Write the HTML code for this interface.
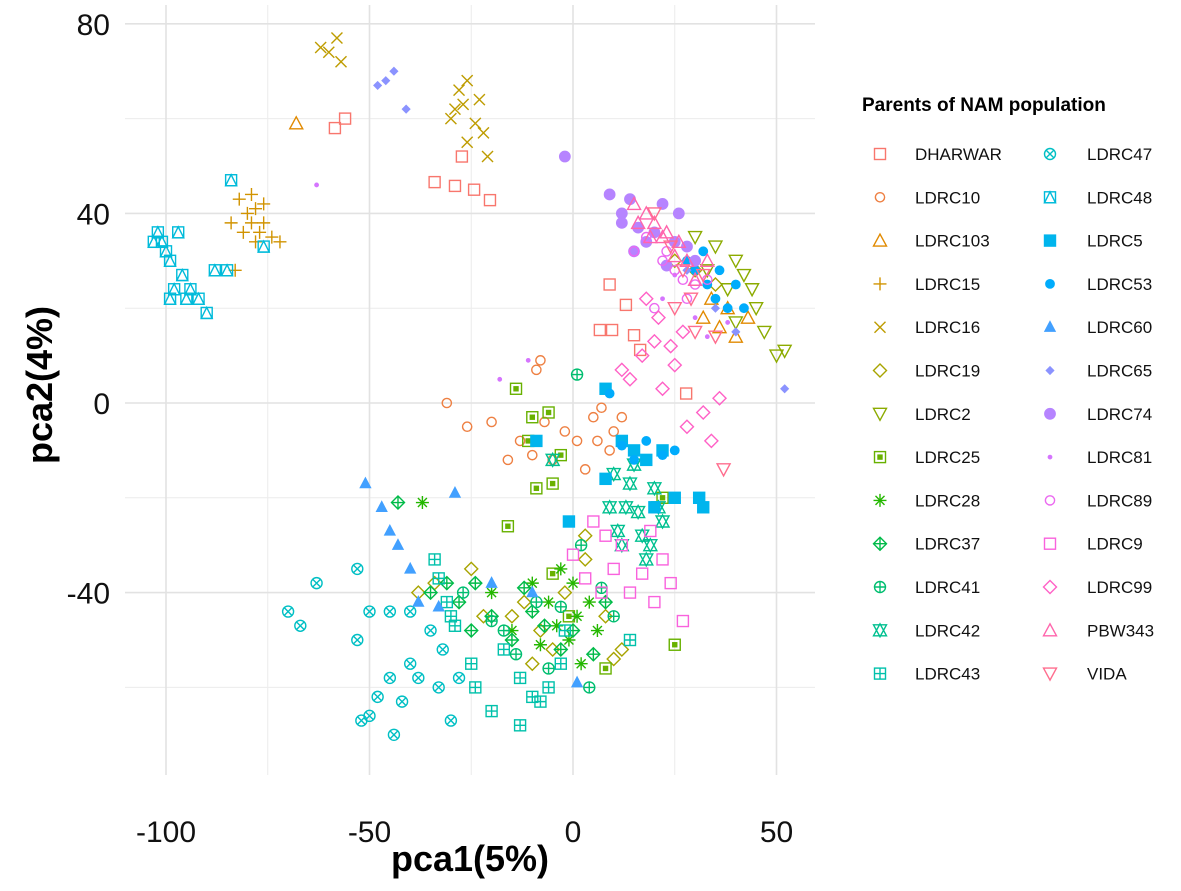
<!DOCTYPE html>
<html><head><meta charset="utf-8"><style>
body{margin:0;background:#fff;}
svg text{font-family:"Liberation Sans",Arial,sans-serif;}
</style></head><body>
<svg id="c" width="1181" height="886" xmlns="http://www.w3.org/2000/svg"></svg>
<script>
const groups=["DHARWAR","LDRC10","LDRC103","LDRC15","LDRC16","LDRC19","LDRC2","LDRC25","LDRC28","LDRC37","LDRC41","LDRC42","LDRC43","LDRC47","LDRC48","LDRC5","LDRC53","LDRC60","LDRC65","LDRC74","LDRC81","LDRC89","LDRC9","LDRC99","PBW343","VIDA"];
const xTicks=[-100,-50,0,50];
const yTicks=[-40,0,40,80];
const ptsDHARWAR=[[-58.5,58],[-56,60],[-34,46.6],[-29,45.8],[-24.3,45],[-20.4,42.8],[-27.3,52],[9,25],[13,20.7],[6.6,15.4],[9.6,15.4],[15,14.3],[16.5,11.2],[27.8,2]];
const ptsLDRC10=[[-31,0],[-26,-5],[-20,-4],[-16,-12],[-13,-8],[-9,7],[-8,9],[-5,-12],[-2,-6],[1,-8],[5,-3],[7,-1],[9,-10],[10,-6],[12,-3],[3,-14],[-10,-11],[-7,-4],[6,-8]];
const ptsLDRC103=[[-68,59],[32,18],[36,16],[40,14],[43,18],[38,20],[34,22]];
const ptsLDRC15=[[-84,38],[-82,43],[-80,40],[-78,41],[-77,36],[-76,38],[-78,34],[-74,35],[-79,44],[-81,36],[-83,28],[-76,42],[-72,34],[-79,38]];
const ptsLDRC16=[[-62,75],[-58,77],[-57,72],[-60,74],[-28,66],[-26,68],[-30,60],[-27,63],[-24,59],[-22,57],[-21,52],[-26,55],[-23,64],[-29,62]];
const ptsLDRC19=[[-38,-40],[-34,-38],[-25,-35],[-22,-45],[-15,-45],[-10,-55],[-5,-52],[-2,-40],[3,-33],[8,-45],[12,-52],[10,-54],[-8,-48],[25,30],[30,28],[35,25],[3,-28],[-12,-42]];
const ptsLDRC2=[[30,35],[35,33],[40,30],[42,27],[45,20],[47,15],[50,10],[52,11],[38,24],[33,28],[44,24],[40,17]];
const ptsLDRC25=[[-14,3],[-16,-26],[-11,-8],[-9,-18],[-6,-2],[-3,-11],[-10,-3],[-5,-17],[22,-20],[25,-51],[8,-56],[-1,-45],[-5,-36]];
const ptsLDRC28=[[-37,-21],[-20,-40],[-15,-48],[-10,-38],[-6,-42],[-3,-35],[0,-38],[1,-45],[4,-42],[-1,-50],[2,-55],[6,-48],[-4,-47],[-8,-51]];
const ptsLDRC37=[[-43,-21],[-35,-40],[-31,-38],[-28,-42],[-25,-48],[-20,-45],[-15,-50],[-10,-44],[-7,-47],[-3,-52],[0,-48],[5,-53],[-12,-39],[-24,-38],[8,-42]];
const ptsLDRC41=[[1,6],[-27,-40],[-20,-46],[-14,-53],[-9,-42],[-3,-43],[2,-30],[7,-39],[10,-45],[-6,-56],[4,-60],[-17,-48]];
const ptsLDRC42=[[10,-15],[15,-13],[13,-22],[17,-28],[20,-18],[22,-25],[12,-30],[18,-33],[11,-27],[16,-23],[19,-30],[21,-22],[14,-17],[9,-22],[-5,-12]];
const ptsLDRC43=[[-34,-33],[-33,-37],[-31,-42],[-29,-47],[-24,-60],[-20,-65],[-17,-52],[-13,-58],[-10,-62],[-8,-63],[-6,-60],[-3,-55],[-13,-68],[-30,-45],[-25,-55],[14,-50],[-2,-48]];
const ptsLDRC47=[[-70,-44],[-67,-47],[-63,-38],[-53,-50],[-53,-35],[-50,-44],[-45,-44],[-40,-44],[-45,-58],[-42,-63],[-40,-55],[-38,-58],[-35,-48],[-33,-60],[-30,-67],[-28,-58],[-32,-52],[-44,-70],[-50,-66],[-48,-62],[-52,-67]];
const ptsLDRC48=[[-102,36],[-101,34],[-100,32],[-99,30],[-97,36],[-96,27],[-94,24],[-92,22],[-90,19],[-98,24],[-99,22],[-95,22],[-88,28],[-84,47],[-85,28],[-76,33],[-103,34]];
const ptsLDRC5=[[-9,-8],[8,3],[12,-8],[15,-10],[18,-12],[20,-22],[25,-20],[31,-20],[32,-22],[-1,-25],[8,-16],[22,-10]];
const ptsLDRC53=[[9,2],[12,-9],[15,-12],[18,-8],[22,-11],[25,-10],[30,28],[33,25],[35,22],[38,20],[40,25],[28,30],[32,32],[36,28],[42,20]];
const ptsLDRC60=[[-51,-17],[-47,-22],[-45,-27],[-43,-30],[-40,-35],[-38,-42],[-29,-19],[-20,-38],[-10,-40],[1,-59],[-33,-43]];
const ptsLDRC65=[[-46,68],[-44,70],[-41,62],[-48,67],[52,3],[28,28],[35,20],[40,15]];
const ptsLDRC74=[[-2,52],[9,44],[12,40],[14,43],[12,38],[16,37],[18,34],[20,36],[22,42],[25,34],[28,33],[23,29],[15,32],[26,40],[30,30]];
const ptsLDRC81=[[-63,46],[-11,9],[-18,5],[25,27],[30,18],[22,22],[33,14],[38,17]];
const ptsLDRC89=[[18,35],[22,30],[25,28],[28,22],[20,20],[30,25],[23,32],[27,26],[33,26],[15,32]];
const ptsLDRC9=[[0,-32],[5,-25],[8,-28],[10,-35],[14,-40],[17,-36],[20,-42],[22,-33],[24,-38],[27,-46],[7,-40],[12,-30],[3,-37],[19,-27]];
const ptsLDRC99=[[12,7],[14,5],[17,10],[20,13],[22,3],[25,8],[28,-5],[32,-2],[36,1],[34,-8],[18,22],[21,18],[24,12],[27,15]];
const ptsPBW343=[[15,42],[18,40],[20,38],[22,35],[25,31],[28,30],[30,26],[23,36],[19,35],[16,38],[26,34],[33,30]];
const ptsVIDA=[[20,40],[24,33],[29,22],[25,20],[30,15],[35,14],[37,-14],[32,27],[27,28]];
const allPts=[ptsDHARWAR,ptsLDRC10,ptsLDRC103,ptsLDRC15,ptsLDRC16,ptsLDRC19,ptsLDRC2,ptsLDRC25,ptsLDRC28,ptsLDRC37,ptsLDRC41,ptsLDRC42,ptsLDRC43,ptsLDRC47,ptsLDRC48,ptsLDRC5,ptsLDRC53,ptsLDRC60,ptsLDRC65,ptsLDRC74,ptsLDRC81,ptsLDRC89,ptsLDRC9,ptsLDRC99,ptsPBW343,ptsVIDA];

const NS="http://www.w3.org/2000/svg";
const svg=document.getElementById('c');
function el(t,a,p){const e=document.createElementNS(NS,t);for(const k in a)e.setAttribute(k,a[k]);(p||svg).appendChild(e);return e;}
const sx=v=>573+v*4.07, sy=v=>403-v*4.74;
const X0=125,X1=815,Y0=5,Y1=775;
function hcl(h,c,l){const hr=h*Math.PI/180;const u=c*Math.cos(hr),v=c*Math.sin(hr);
 const un=0.1978398,vn=0.4683363;const Y=l>8?Math.pow((l+16)/116,3):l/903.3;
 const up=u/(13*l)+un,vp=v/(13*l)+vn;const X=Y*9*up/(4*vp);const Z=Y*(12-3*up-20*vp)/(4*vp);
 let r=3.2406*X-1.5372*Y-0.4986*Z,g=-0.9689*X+1.8758*Y+0.0415*Z,b=0.0557*X-0.2040*Y+1.0570*Z;
 const f=x=>{x=x<=0.0031308?12.92*x:1.055*Math.pow(x,1/2.4)-0.055;return Math.round(Math.max(0,Math.min(1,x))*255);};
 return `rgb(${f(r)},${f(g)},${f(b)})`;}
const cols=groups.map((g,i)=>hcl(15+i*360/groups.length,100,65));

const grid=el('g',{});


[-75,-25,25].forEach(v=>el('line',{x1:sx(v),x2:sx(v),y1:Y0,y2:Y1,stroke:'#ececec','stroke-width':1},grid));
[-60,-20,20,60].forEach(v=>el('line',{x1:X0,x2:X1,y1:sy(v),y2:sy(v),stroke:'#ececec','stroke-width':1},grid));
xTicks.forEach(v=>el('line',{x1:sx(v),x2:sx(v),y1:Y0,y2:Y1,stroke:'#e2e2e2','stroke-width':1.6},grid));
yTicks.forEach(v=>el('line',{x1:X0,x2:X1,y1:sy(v),y2:sy(v),stroke:'#e2e2e2','stroke-width':1.6},grid));

function shape(k,x,y,c,p){
 const s=5.5,g=el('g',{fill:'none',stroke:c,'stroke-width':1.4},p);
 const sq=()=>el('rect',{x:x-s,y:y-s,width:2*s,height:2*s},g);
 const ci=(r)=>el('circle',{cx:x,cy:y,r:r||s},g);
 const tri=()=>el('polygon',{points:`${x},${y-s-1} ${x-s-1},${y+s} ${x+s+1},${y+s}`},g);
 const dtri=()=>el('polygon',{points:`${x},${y+s+1} ${x-s-1},${y-s} ${x+s+1},${y-s}`},g);
 const dia=()=>el('polygon',{points:`${x},${y-s-1} ${x+s+1},${y} ${x},${y+s+1} ${x-s-1},${y}`},g);
 const plus=(r)=>{r=r||s+1;el('path',{d:`M${x-r},${y}H${x+r}M${x},${y-r}V${y+r}`},g);};
 const cross=(r)=>{r=r||s;el('path',{d:`M${x-r},${y-r}L${x+r},${y+r}M${x-r},${y+r}L${x+r},${y-r}`},g);};
 switch(k){
  case 0:case 22:sq();break;
  case 1:case 21:ci(4.6);break;
  case 2:case 24:tri();break;
  case 3:plus();break;
  case 4:cross();break;
  case 5:case 23:dia();break;
  case 6:case 25:dtri();break;
  case 7:sq();el('rect',{x:x-2,y:y-2,width:4,height:4,fill:c},g);break;
  case 8:plus();cross(4.5);break;
  case 9:dia();plus(s+1);break;
  case 10:ci();plus(s);break;
  case 11:tri();dtri();break;
  case 12:sq();plus(s);break;
  case 13:ci();cross(3.9);break;
  case 14:sq();el('polygon',{points:`${x},${y-s} ${x-s},${y+s} ${x+s},${y+s}`},g);break;
  case 15:g.setAttribute('fill',c);sq();break;
  case 16:g.setAttribute('fill',c);ci(4.2);break;
  case 17:g.setAttribute('fill',c);el('polygon',{points:`${x},${y-5.5} ${x-5},${y+4} ${x+5},${y+4}`},g);break;
  case 18:g.setAttribute('fill',c);el('polygon',{points:`${x},${y-3.6} ${x+3.6},${y} ${x},${y+3.6} ${x-3.6},${y}`},g);break;
  case 19:g.setAttribute('fill',c);ci(5.2);break;
  case 20:g.setAttribute('fill',c);ci(1.7);break;
 }
 return g;
}
const pts=el('g',{});


allPts.forEach((arr,i)=>arr.forEach(d=>{const m=shape(i,sx(d[0]),sy(d[1]),cols[i],pts);
 
 }));

xTicks.forEach(v=>{const t=el('text',{x:sx(v),y:842,'text-anchor':'middle','font-size':30,fill:'#111'});t.textContent=v;
 });
yTicks.forEach(v=>{const t=el('text',{x:110,y:sy(v)+11,'text-anchor':'end','font-size':30,fill:'#111'});t.textContent=v;
 });
let t=el('text',{x:470,y:871,'text-anchor':'middle','font-size':36,'font-weight':'bold',fill:'#000'});t.textContent='pca1(5%)';

t=el('text',{x:0,y:0,'text-anchor':'middle','font-size':36,'font-weight':'bold',fill:'#000',transform:'translate(52,385) rotate(-90)'});t.textContent='pca2(4%)';


const lg=el('g',{});


t=el('text',{x:862,y:111,'font-size':19,'font-weight':'bold',fill:'#000'},lg);t.textContent='Parents of NAM population';

groups.forEach((g,i)=>{const col=i<13?0:1,row=i%13;const y=154+row*43.3;const x=col?1050:880;
 const e=el('g',{},lg);
 
 
 shape(i,x,y,cols[i],e);
 const tt=el('text',{x:x+(col?37:35),y:y+6,'font-size':17,fill:'#111'},e);tt.textContent=g;});
</script>
</body></html>
